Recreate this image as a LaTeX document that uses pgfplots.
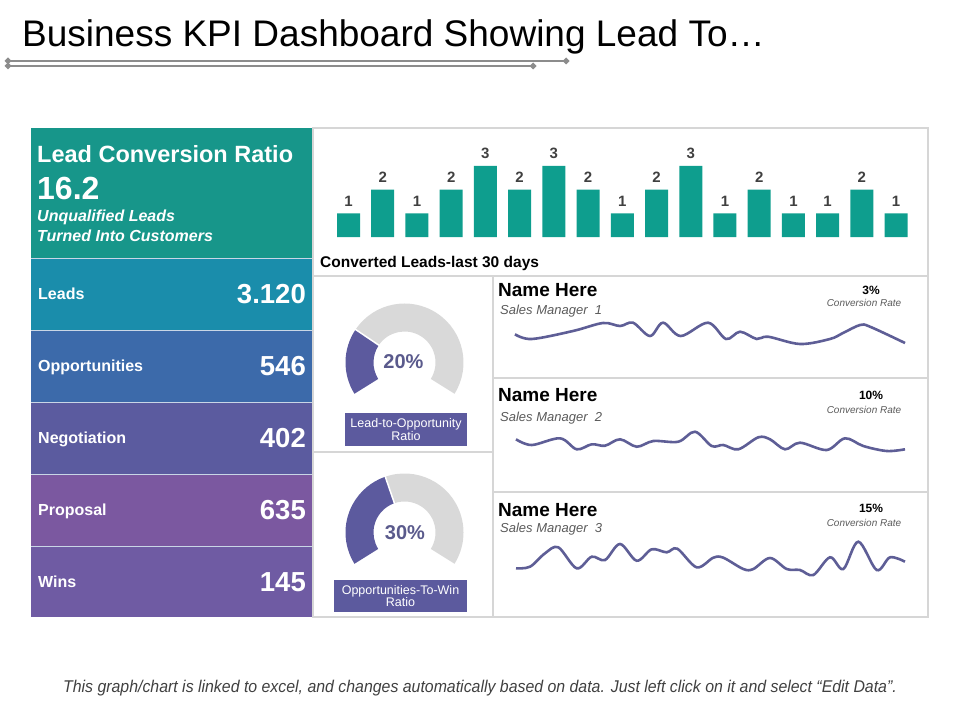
\documentclass[border=0pt]{standalone}
\usepackage{pgfplots}
\pgfplotsset{compat=1.18}
\usepackage{pgfplotstable}
\usepackage{fontspec}
\setmainfont{Liberation Sans}
\definecolor{teal1}{HTML}{17968A}
\definecolor{barteal}{HTML}{0E9E8E}
\definecolor{leadsc}{HTML}{1A8DAB}
\definecolor{oppc}{HTML}{3C6AAA}
\definecolor{negc}{HTML}{5B5B9F}
\definecolor{propc}{HTML}{7B58A0}
\definecolor{winsc}{HTML}{6F5BA3}
\definecolor{gpurple}{HTML}{5C5A9E}
\definecolor{ggray}{HTML}{D9D9D9}
\definecolor{spark}{HTML}{5E5E96}
\definecolor{framec}{HTML}{D6D6D6}
\definecolor{sepc}{HTML}{C9D6E6}
\definecolor{linegray}{HTML}{8C8C8C}
\definecolor{labgray}{HTML}{404040}
\definecolor{pcttext}{HTML}{5A5A8C}
\definecolor{subgray}{HTML}{5A5A5A}
\newcommand{\fs}[1]{\fontsize{#1bp}{#1bp}\selectfont}
\newcommand{\dia}[2]{\fill[linegray] ({#1-3.5},#2)--(#1,{#2-3.5})--({#1+3.5},#2)--(#1,{#2+3.5})--cycle;}

\pgfplotstableread{
day leads
0 1
1 2
2 1
3 2
4 3
5 2
6 3
7 2
8 1
9 2
10 3
11 1
12 2
13 1
14 1
15 2
16 1
}\barsdata

\pgfplotstableread{
x y
515 25.7
531.7 21
573 29
603 37
620 34
633 37.3
650 24
663 37.3
680.7 24
708 37.3
726 21
740 28.3
756.7 21
768 23.3
800 16
830 21
843 27
860 35
870 33.3
905 17
}\sparkA

\pgfplotstableread{
x y
516 25.7
531.7 20
560 26.7
576.7 15.7
591.7 20.7
605 19.3
620 25.7
636.7 18.3
653.3 24
678.3 23.3
695 33.3
711.7 19
723.3 20
738.3 15.7
758.3 27.7
770 25.7
785 15.7
800 22.3
826.7 15
845 26.7
863.3 19
886.7 14
905 15.7
}\sparkB

\pgfplotstableread{
x y
516 21.7
530 23.3
545 36.7
558.3 42.7
576.7 21.7
591.7 33.3
605 30
620 46
636.7 29.3
651.7 40.7
666.7 37.7
677.3 41.3
696.7 22.7
713.3 32.3
723.3 32.3
743.3 21
753.3 21
770 32
786.7 21
800 20
813.3 15
830 32.7
843.3 21
858.3 48.3
876.7 20
890 32.7
905 28.3
}\sparkC

\begin{document}
\begin{tikzpicture}[x=1bp,y=-1bp]
\path (0,0) rectangle (960,720);

% title
\node[anchor=base west, inner sep=0] at (22,47) {\fs{37}Business KPI Dashboard Showing Lead To…};
\draw[linegray, line width=1.2bp] (8,61) -- (566,61);
\draw[linegray, line width=1.2bp] (8,66) -- (533,66);
\dia{8}{61}\dia{8}{66}\dia{566}{61}\dia{533}{66}

% left column
\fill[teal1] (31,128) rectangle (313,258);
\fill[leadsc] (31,258) rectangle (313,330);
\fill[oppc] (31,330) rectangle (313,402);
\fill[negc] (31,402) rectangle (313,474);
\fill[propc] (31,474) rectangle (313,546);
\fill[winsc] (31,546) rectangle (313,617);
\foreach \yy in {258,330,402,474,546} {\draw[sepc, line width=1bp] (31,\yy) -- (313,\yy);}

\node[anchor=base west, inner sep=0, text=white] at (37,163) {\bfseries\fs{23.5}Lead Conversion Ratio};
\node[anchor=base west, inner sep=0, text=white] at (37,199.5) {\bfseries\fs{32}16.2};
\node[anchor=base west, inner sep=0, text=white] at (37,221) {\bfseries\itshape\fs{16}Unqualified Leads};
\node[anchor=base west, inner sep=0, text=white] at (37,241) {\bfseries\itshape\fs{16}Turned Into Customers};

\foreach \lab/\val/\cy in {Leads/3.120/294,Opportunities/546/366,Negotiation/402/438,Proposal/635/510,Wins/145/582} {
  \node[anchor=base west, inner sep=0, text=white] at (38,\cy+5.6) {\bfseries\fs{16}\lab};
  \node[anchor=base east, inner sep=0, text=white] at (306,\cy+9.6) {\bfseries\fs{27.5}\val};
}

% right frame
\draw[framec, line width=1.5bp] (313,128) rectangle (928,617);
\draw[framec, line width=1.5bp] (313,276) -- (928,276);
\draw[framec, line width=1.5bp] (493,276) -- (493,617);
\draw[framec, line width=1.5bp] (313,452) -- (493,452);
\draw[framec, line width=1.5bp] (493,378) -- (928,378);
\draw[framec, line width=1.5bp] (493,492) -- (928,492);

% bar chart
\begin{axis}[at={(331.4bp,-237bp)}, anchor=south west, scale only axis,
  width=581.8bp, height=83bp, xmin=-0.5, xmax=16.5, ymin=0, ymax=3.5,
  hide axis, clip=false, ybar, bar width=23bp,
  /pgf/number format/assume math mode=true,
  nodes near coords,
  every node near coord/.append style={font=\bfseries\fs{15}, text=labgray, inner sep=0pt, yshift=7bp}]
\addplot[draw=none, fill=barteal] table[x=day, y=leads] {\barsdata};
\end{axis}
\node[anchor=base west, inner sep=0] at (320,267) {\bfseries\fs{15.5}Converted Leads-last 30 days};

% gauges
\begin{scope}[shift={(404.5,362.5)}, yscale=-1]
  \fill[ggray] (146:59) arc[start angle=146, end angle=-32, radius=59] -- (-32:31) arc[start angle=-32, end angle=146, radius=31] -- cycle;
  \fill[gpurple] (212:59) arc[start angle=212, end angle=146, radius=59] -- (146:31) arc[start angle=146, end angle=212, radius=31] -- cycle;
  \draw[white, line width=1.5bp] (146:30) -- (146:60);
\end{scope}
\node[text=pcttext] at (403.5,361.5) {\bfseries\fs{20}20\%};
\fill[gpurple] (345,413) rectangle (467,446);
\node[text=white, align=center, inner sep=0, font=\fs{12.5}] at (406,429.5) {Lead-to-Opportunity\\Ratio};

\begin{scope}[shift={(404.5,532.5)}, yscale=-1]
  \fill[ggray] (109:59) arc[start angle=109, end angle=-32, radius=59] -- (-32:31) arc[start angle=-32, end angle=109, radius=31] -- cycle;
  \fill[gpurple] (212:59) arc[start angle=212, end angle=109, radius=59] -- (109:31) arc[start angle=109, end angle=212, radius=31] -- cycle;
  \draw[white, line width=1.5bp] (109:30) -- (109:60);
\end{scope}
\node[text=pcttext] at (405,533) {\bfseries\fs{20}30\%};
\fill[gpurple] (334,580) rectangle (467,612);
\node[text=white, align=center, inner sep=0, font=\fs{12.5}] at (400.5,596) {Opportunities-To-Win\\Ratio};

% sparkline panels
\begin{axis}[at={(500bp,-360bp)}, anchor=south west, scale only axis, width=420bp, height=50bp,
  xmin=500, xmax=920, ymin=0, ymax=50, hide axis, clip=false]
\addplot[spark, line width=2.6bp, smooth, tension=0.55] table {\sparkA};
\end{axis}
\begin{axis}[at={(500bp,-465bp)}, anchor=south west, scale only axis, width=420bp, height=50bp,
  xmin=500, xmax=920, ymin=0, ymax=50, hide axis, clip=false]
\addplot[spark, line width=2.6bp, smooth, tension=0.55] table {\sparkB};
\end{axis}
\begin{axis}[at={(500bp,-590bp)}, anchor=south west, scale only axis, width=420bp, height=50bp,
  xmin=500, xmax=920, ymin=0, ymax=50, hide axis, clip=false]
\addplot[spark, line width=2.6bp, smooth, tension=0.55] table {\sparkC};
\end{axis}

\foreach \cy/\sy/\num/\pct/\py/\cry in {290/310/1/3/290/303, 395/416.5/2/10/395/410, 510/528/3/15/508/522.7} {
  \node[anchor=base west, inner sep=0] at (498,\cy+6.8) {\bfseries\fs{19}Name Here};
  \node[anchor=base west, inner sep=0, text=subgray] at (500,\sy+4.7) {\itshape\fs{13}Sales Manager\ \ \num};
  \node[inner sep=0] at (871,\py) {\bfseries\fs{12}\pct\%};
  \node[inner sep=0, text=subgray] at (864,\cry) {\itshape\fs{10}Conversion Rate};
}

% footer
\node[text=labgray, xscale=0.934, inner sep=0] at (480,688) {\itshape\fs{17}This graph/chart is linked to excel, and changes automatically based on data. Just left click on it and select “Edit Data”.};
\end{tikzpicture}
\end{document}
